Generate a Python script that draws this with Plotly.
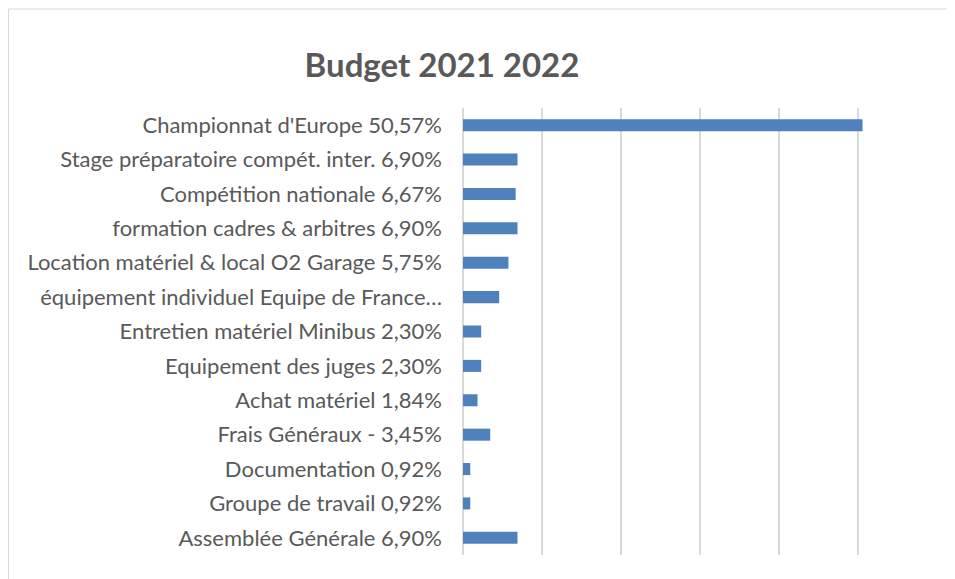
import plotly.graph_objects as go

categories = [
    "Championnat d'Europe 50,57%",
    "Stage préparatoire compét. inter. 6,90%",
    "Compétition nationale 6,67%",
    "formation cadres & arbitres 6,90%",
    "Location matériel & local O2 Garage 5,75%",
    "équipement individuel Equipe de France…",
    "Entretien matériel Minibus 2,30%",
    "Equipement des juges 2,30%",
    "Achat matériel 1,84%",
    "Frais Généraux - 3,45%",
    "Documentation 0,92%",
    "Groupe de travail 0,92%",
    "Assemblée Générale 6,90%",
]
values = [50.57, 6.90, 6.67, 6.90, 5.75, 4.58, 2.30, 2.30, 1.84, 3.45, 0.92, 0.92, 6.90]

# the page body adds an 8px offset, so the figure is sized for the visible area
W, H = 947, 571
ml, mr, mt, mb = 455, 18, 100, 24
pw = W - ml - mr
ph = H - mt - mb

fig = go.Figure(go.Bar(
    x=values, y=categories, orientation="h",
    marker=dict(color="#4F81BD", line=dict(width=0)),
    width=0.35,
))

fig.update_layout(
    width=W, height=H,
    margin=dict(l=ml, r=mr, t=mt, b=mb, autoexpand=False),
    paper_bgcolor="white", plot_bgcolor="white",
    title=dict(text="<b>Budget 2021 2022</b>", x=434 / W, xanchor="center",
               y=1 - 57 / H, yanchor="middle",
               font=dict(family="Lato", size=33, color="#595959")),
    showlegend=False,
)
fig.update_xaxes(range=[0, 60], dtick=10, showticklabels=False, showgrid=True,
                 gridcolor="#D9D9D9", gridwidth=1.5, zeroline=True,
                 zerolinecolor="#D9D9D9", zerolinewidth=1.5, showline=False, fixedrange=True)
fig.update_yaxes(autorange="reversed", showgrid=False, showline=False, ticks="",
                 ticklabelstandoff=20, automargin=False,
                 tickfont=dict(family="Lato", size=22, color="#595959"), fixedrange=True)

# outer chart frame (left and top edges visible)
fig.add_shape(type="rect", xref="paper", yref="paper",
              x0=(0.5 - ml) / pw, x1=(W + 10 - ml) / pw,
              y0=-(H + 10 - (H - mb)) / ph, y1=1 + (mt - 1) / ph,
              line=dict(color="#D9D9D9", width=1), fillcolor="rgba(0,0,0,0)", layer="below")

fig.write_html("out.html")
